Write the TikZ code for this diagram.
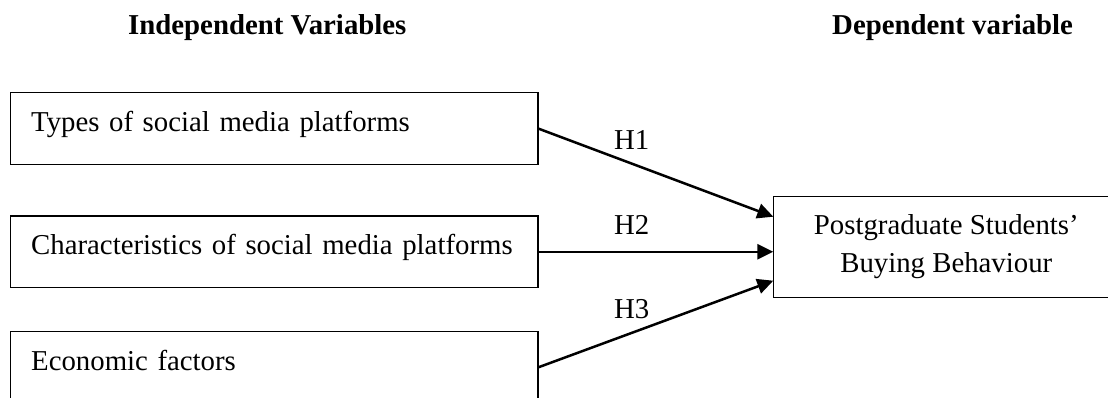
\documentclass[tikz,border=0pt]{standalone}
\usepackage{fontspec}
\setmainfont{Liberation Serif}
\usetikzlibrary{arrows.meta}
\begin{document}
\begin{tikzpicture}[x=1pt,y=-1pt,
  txt/.style={font=\fontsize{28.8}{38}\selectfont},
  hdr/.style={font=\fontsize{28.8}{38}\selectfont\bfseries, anchor=base west, inner sep=0pt},
  ivbox/.style={draw, line width=1.1pt, txt, anchor=north west, outer sep=0pt,
    inner xsep=20.5pt, inner ysep=0pt, text width=486.3pt, align=left,
    text height=38.5pt, text depth=33pt},
  dvbox/.style={draw, line width=1.1pt, txt, anchor=north west, outer sep=0pt,
    minimum width=346pt, minimum height=100.6pt, align=center},
  hlabel/.style={txt, anchor=base, inner sep=0pt},
  arr/.style={line width=2.5pt, -{Triangle[length=16pt,width=15pt]}}]

\useasboundingbox (0,0) rectangle (1108,398);
\clip (0,0) rectangle (1108,398);

% column headings
\node[hdr] (ivhead) at (128,35) {Independent Variables};
\node[hdr] (dvhead) at (832,35) {Dependent variable};

% independent variables
\node[ivbox] (iv1) at (10.7,92.7) {Types of social media platforms};
\node[ivbox] (iv2) at (10.7,216) {Characteristics of social media platforms};
\node[ivbox] (iv3) at (10.7,331.7) {Economic factors};

% dependent variable
\node[dvbox] (dv) at (773.3,196.7) {Postgraduate Students’\\Buying Behaviour};

% hypotheses
\draw[arr] (iv1.east) -- ([yshift=-20pt]dv.north west);
\draw[arr] (iv2.east) -- (dv.west |- iv2.east);
\draw[arr] (iv3.east) -- ([yshift=16.6pt]dv.south west);

\node[hlabel] (h1) at (631.7,149.3) {H1};
\node[hlabel] (h2) at (631.7,234.3) {H2};
\node[hlabel] (h3) at (631.7,318) {H3};
\end{tikzpicture}
\end{document}
